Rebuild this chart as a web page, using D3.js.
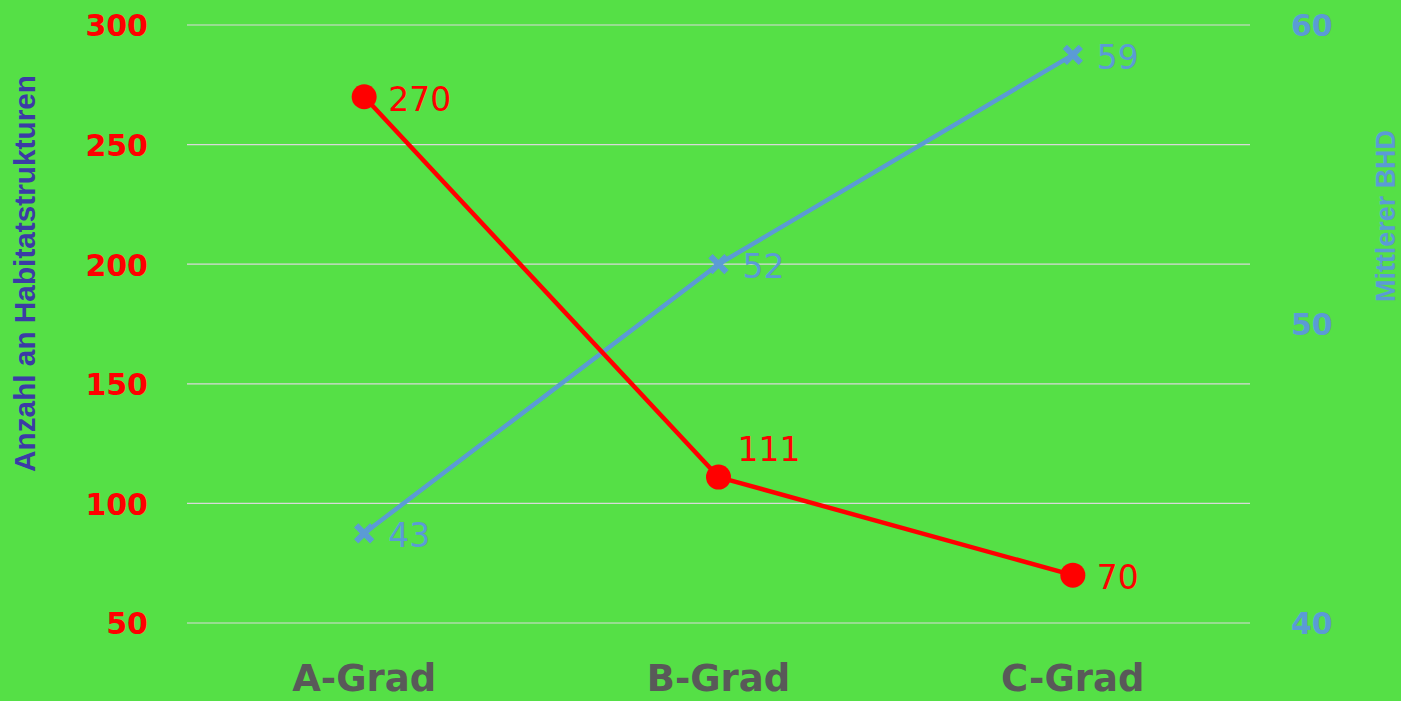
<!DOCTYPE html>
<html>
<head>
<meta charset="utf-8">
<script src="https://cdn.jsdelivr.net/npm/d3@7"></script>
<style>
  html, body { margin: 0; padding: 0; background: #55e046; }
  svg { display: block; }
</style>
</head>
<body>
<svg id="chart" width="1401" height="701"></svg>
<script>
// Grades of forest stands
const categories = ["A-Grad", "B-Grad", "C-Grad"];
// Number of habitat structures per grade (left axis)
const habitatCounts = [270, 111, 70];
// Mean diameter at breast height per grade (right axis)
const meanBHD = [43, 52, 59];
// Axis ticks
const leftTicks = [50, 100, 150, 200, 250, 300];
const rightTicks = [40, 50, 60];

const W = 1401, H = 701;
const plot = { left: 187, right: 1250, top: 25, bottom: 623 };

const svg = d3.select("#chart");
svg.append("rect").attr("width", W).attr("height", H).attr("fill", "#55e046");

const x = d3.scaleBand().domain(categories).range([plot.left, plot.right]).padding(0);
const yL = d3.scaleLinear().domain([50, 300]).range([plot.bottom, plot.top]);
const yR = d3.scaleLinear().domain([40, 60]).range([plot.bottom, plot.top]);
const cx = c => x(c) + x.bandwidth() / 2;

// Horizontal gridlines
svg.append("g").selectAll("line").data(leftTicks).join("line")
  .attr("x1", plot.left).attr("x2", plot.right)
  .attr("y1", d => yL(d)).attr("y2", d => yL(d))
  .attr("stroke", "#d9d9d9").attr("stroke-width", 1.2);

// Left axis (red bold ticks)
const axL = svg.append("g").attr("transform", `translate(${plot.left - 39},0)`)
  .call(d3.axisLeft(yL).tickValues(leftTicks).tickSize(0).tickPadding(0));
axL.select(".domain").remove();
axL.selectAll("text")
  .attr("fill", "#ff0000").attr("font-family", "DejaVu Sans, sans-serif")
  .attr("font-weight", "bold").attr("font-size", 30).attr("dy", "0.36em");

// Right axis (blue bold ticks)
const axR = svg.append("g").attr("transform", `translate(${plot.right + 41},0)`)
  .call(d3.axisRight(yR).tickValues(rightTicks).tickSize(0).tickPadding(0));
axR.select(".domain").remove();
axR.selectAll("text")
  .attr("fill", "#5b9bd5").attr("font-family", "DejaVu Sans, sans-serif")
  .attr("font-weight", "bold").attr("font-size", 30).attr("dy", "0.36em");

// Category axis
const axX = svg.append("g").attr("transform", `translate(0,${plot.bottom})`)
  .call(d3.axisBottom(x).tickSize(0).tickPadding(0));
axX.select(".domain").remove();
axX.selectAll("text")
  .attr("fill", "#595959").attr("font-family", "DejaVu Sans, sans-serif")
  .attr("font-weight", "bold").attr("font-size", 37).attr("y", 68).attr("dy", 0);

// Axis titles
svg.append("text")
  .attr("transform", `translate(35,${(75 + 472) / 2}) rotate(-90)`)
  .attr("text-anchor", "middle")
  .attr("font-family", "Liberation Sans, Arial, sans-serif").attr("font-weight", "bold")
  .attr("font-size", 30).attr("fill", "#3b3ba6")
  .attr("textLength", 397).attr("lengthAdjust", "spacingAndGlyphs")
  .text("Anzahl an Habitatstrukturen");

svg.append("text")
  .attr("transform", `translate(1395,${(130 + 302) / 2}) rotate(-90)`)
  .attr("text-anchor", "middle")
  .attr("font-family", "Liberation Sans, Arial, sans-serif").attr("font-weight", "bold")
  .attr("font-size", 27).attr("fill", "#5b9bd5")
  .attr("textLength", 172).attr("lengthAdjust", "spacingAndGlyphs")
  .text("Mittlerer BHD");

// Mean BHD series (blue line with X markers)
const lineR = d3.line().x((d, i) => cx(categories[i])).y(d => yR(d));
svg.append("path").datum(meanBHD).attr("d", lineR)
  .attr("fill", "none").attr("stroke", "#5b9bd5").attr("stroke-width", 4.5)
  .attr("stroke-linejoin", "round");
const xm = 8;
svg.append("g").selectAll("path").data(meanBHD).join("path")
  .attr("d", (d, i) => {
    const px = cx(categories[i]), py = yR(d);
    return `M${px - xm},${py - xm}L${px + xm},${py + xm}M${px - xm},${py + xm}L${px + xm},${py - xm}`;
  })
  .attr("stroke", "#5b9bd5").attr("stroke-width", 6).attr("fill", "none");

// Habitat structure series (red line with circle markers)
const lineL = d3.line().x((d, i) => cx(categories[i])).y(d => yL(d));
svg.append("path").datum(habitatCounts).attr("d", lineL)
  .attr("fill", "none").attr("stroke", "#ff0000").attr("stroke-width", 4.5)
  .attr("stroke-linejoin", "round");
svg.append("g").selectAll("circle").data(habitatCounts).join("circle")
  .attr("cx", (d, i) => cx(categories[i])).attr("cy", d => yL(d))
  .attr("r", 12.5).attr("fill", "#ff0000");

// Value labels
const labelFont = "DejaVu Sans, sans-serif";
svg.append("g").selectAll("text").data(meanBHD).join("text")
  .attr("x", (d, i) => cx(categories[i]) + 24)
  .attr("y", (d, i) => yR(d) + 2)
  .attr("dy", "0.36em")
  .attr("font-family", labelFont).attr("font-size", 33).attr("fill", "#5b9bd5")
  .text(d => d);

svg.append("g").selectAll("text").data(habitatCounts).join("text")
  .attr("x", (d, i) => cx(categories[i]) + (i === 1 ? 19 : 24))
  .attr("y", (d, i) => yL(d) + (i === 1 ? -28 : 2))
  .attr("dy", "0.36em")
  .attr("font-family", labelFont).attr("font-size", 33).attr("fill", "#ff0000")
  .text(d => d);
</script>
</body>
</html>
